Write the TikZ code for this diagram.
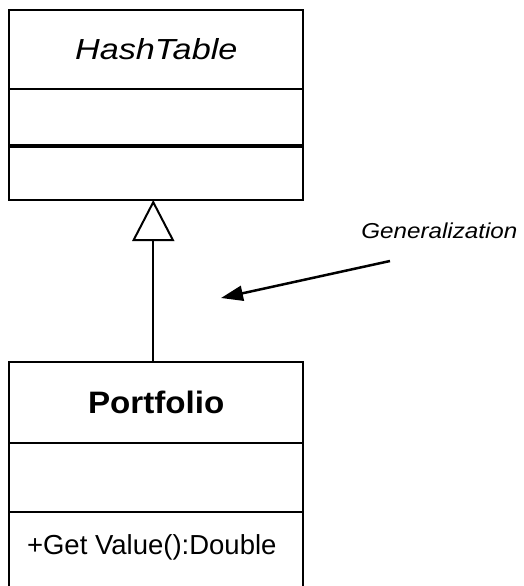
\documentclass[tikz,border=0pt]{standalone}
\usepackage{fontspec}
\usepackage{graphicx}
\setmainfont{Liberation Sans}
\usetikzlibrary{positioning,arrows.meta}
\definecolor{ink}{HTML}{000000}

\begin{document}
\begin{tikzpicture}[
    x=1pt, y=-1pt,
    every node/.style={text=ink},
    part/.style={draw=ink, line width=2pt, inner sep=0pt, outer sep=0pt,
                 minimum width=294pt, align=center},
    gen/.style={-{Triangle[open, length=41pt, width=42pt]}, draw=ink, line width=2pt},
    note/.style={-{Triangle[length=22pt, width=15pt]}, draw=ink, line width=2.5pt},
  ]
  \fill[white] (0,0) rectangle (523,586);
  \useasboundingbox (0,0) rectangle (523,586);

  % the abstract class, at the top
  \node[part, minimum height=79pt, font=\fontsize{29}{32}\selectfont\itshape]
        (htname) at (156.25,49.5) {\scalebox{1.18}[1]{HashTable}};
  \node[part, minimum height=57pt, below=0pt of htname] (htattr) {};
  \node[part, minimum height=54pt, below=0pt of htattr] (htops)  {};
  \draw[ink, line width=4pt] (htattr.south west) -- (htattr.south east);

  % the subclass
  \node[part, minimum height=81pt, font=\fontsize{31}{34}\selectfont\bfseries]
        (pfname) at (156.25,402.5) {\scalebox{1.07}[1]{Portfolio}};
  \node[part, minimum height=69pt, below=0pt of pfname] (pfattr) {};
  \node[part, minimum height=78pt, font=\fontsize{27.5}{30}\selectfont,
        text height=20pt, text depth=13pt, below=0pt of pfattr] (pfops)
        {\hspace*{-9pt}+Get Value():Double};

  % generalization link
  \draw[gen] ([xshift=-3pt]pfname.north) -- ([xshift=-3pt]htops.south);

  % the note pointing at it
  \node[anchor=base, font=\fontsize{21.6}{24}\selectfont\itshape]
        (genlbl) at (439.4,238) {\scalebox{1.12}[1]{Generalization}};
  \coordinate (gfrom) at (390,261);
  \coordinate (gto)   at (221,298);
  \draw[note] (gfrom) -- (gto);
\end{tikzpicture}
\end{document}
